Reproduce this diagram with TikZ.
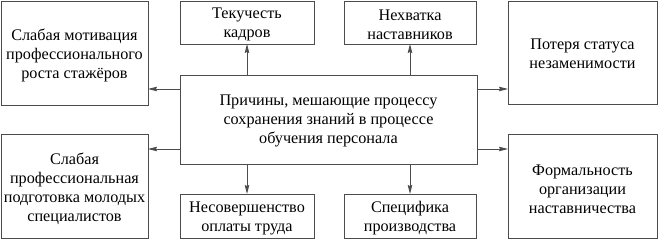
\documentclass[tikz,border=0pt]{standalone}
\usepackage{fontspec}
\setmainfont{Liberation Serif}
\newfontfamily\lserif{Liberation Serif}
\usetikzlibrary{arrows.meta}
\begin{document}
\begin{tikzpicture}[x=1pt,y=-1pt,
  box/.style={draw=black!70,line width=0.9pt,fill=white},
  lbl/.style={align=center,font=\lserif\fontsize{16.2}{19}\selectfont,inner sep=0pt},
  arr/.style={draw=black!70,line width=0.9pt,-{Stealth[length=9pt,width=4.5pt,inset=1pt]}}]
\useasboundingbox (0,0) rectangle (658,240);
% boxes
\draw[box] (1,1) rectangle (148,105);
\node[lbl] (tl) at (74.5,55) {Слабая мотивация\\профессионального\\роста стажёров};
\draw[box] (180,1) rectangle (314,44);
\node[lbl] (tek) at (247,24.5) {Текучесть\\кадров};
\draw[box] (344,1) rectangle (476,44);
\node[lbl] (nek) at (410,24.5) {Нехватка\\наставников};
\draw[box] (508,1) rectangle (657,104);
\node[lbl] (tr) at (582.5,53.5) {Потеря статуса\\незаменимости};
\draw[box] (180,75) rectangle (477,164);
\node[lbl] (c) at (328.5,120.5) {Причины, мешающие процессу\\сохранения знаний в процессе\\обучения персонала};
\draw[box] (1,134) rectangle (148,238);
\node[lbl] (bl) at (74.5,189) {Слабая\\профессиональная\\подготовка молодых\\специалистов};
\draw[box] (180,194) rectangle (314,238);
\node[lbl] (nes) at (247,218) {Несовершенство\\оплаты труда};
\draw[box] (344,194) rectangle (476,238);
\node[lbl] (spec) at (410,218) {Специфика\\производства};
\draw[box] (508,134) rectangle (657,238);
\node[lbl] (br) at (582.5,189) {Формальность\\организации\\наставничества};
% named anchor points on box edges
\coordinate (cTop1) at (247,75);
\coordinate (cTop2) at (410,75);
\coordinate (cBot1) at (247,164);
\coordinate (cBot2) at (410,164);
\coordinate (cL1) at (180,89);
\coordinate (cL2) at (180,149);
\coordinate (cR1) at (477,89);
\coordinate (cR2) at (477,149);
\coordinate (tekB) at (247,44);
\coordinate (nekB) at (410,44);
\coordinate (nesT) at (247,194);
\coordinate (specT) at (410,194);
\coordinate (tlR) at (148,89);
\coordinate (blR) at (148,149);
\coordinate (trL) at (508,89);
\coordinate (brL) at (508,149);
\draw[arr] (cTop1) -- (tekB);
\draw[arr] (cTop2) -- (nekB);
\draw[arr] (cBot1) -- (nesT);
\draw[arr] (cBot2) -- (specT);
\draw[arr] (cL1) -- (tlR);
\draw[arr] (cL2) -- (blR);
\draw[arr] (cR1) -- (trL);
\draw[arr] (cR2) -- (brL);
\end{tikzpicture}
\end{document}
